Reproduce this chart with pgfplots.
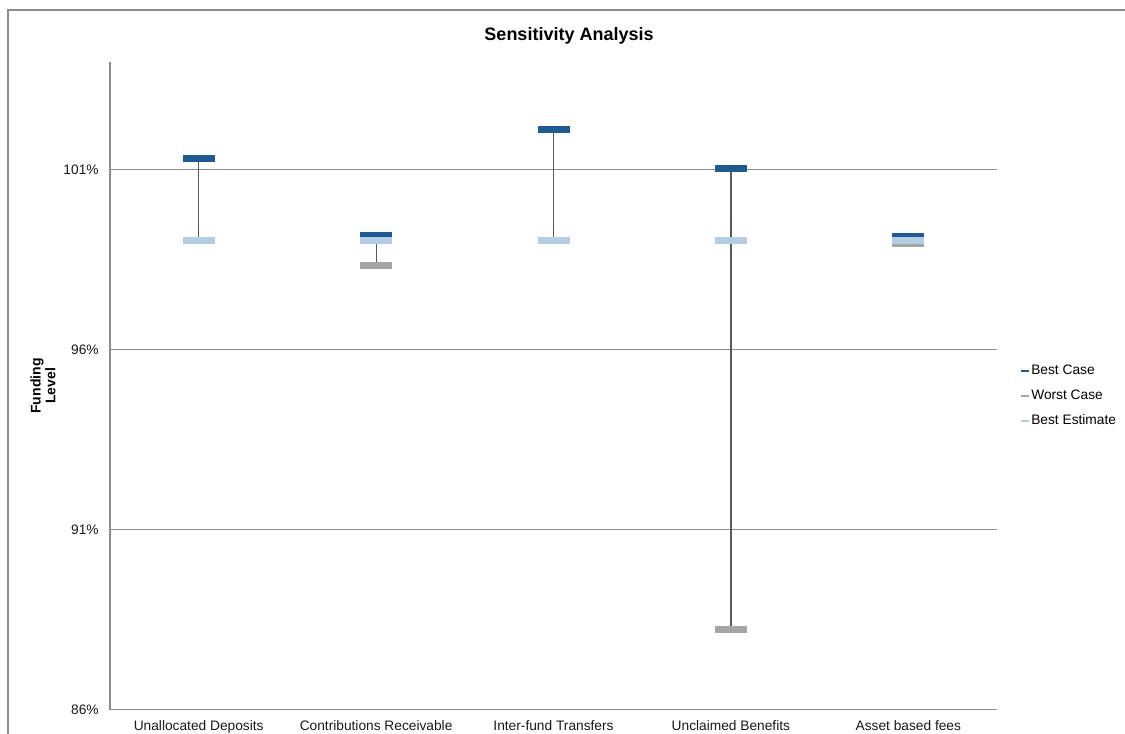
\documentclass[border=0pt]{standalone}
\usepackage{fontspec}
\setmainfont{Liberation Sans}
\usepackage{pgfplots}
\pgfplotsset{compat=1.18}
\definecolor{bestcase}{HTML}{1F5A93}
\definecolor{worstcase}{HTML}{A5A5A5}
\definecolor{bestest}{HTML}{B5CCE5}
\definecolor{gridgray}{HTML}{8C8C8C}
\definecolor{hilo}{HTML}{5A5A5A}
\begin{document}
\begin{tikzpicture}
\useasboundingbox (0,0) rectangle (843.75pt,550.5pt);
% outer chart frame (cut by the page on the right and bottom)
\draw[color=gridgray, line width=1.5pt] (6pt,-10pt) -- (6pt,543pt) -- (860pt,543pt);
\begin{axis}[
  at={(82.5pt,18pt)}, anchor=south west,
  scale only axis, width=665.25pt, height=486pt,
  xmin=-0.5, xmax=4.5, ymin=86, ymax=104,
  xtick={0,1,2,3,4},
  xticklabels={Unallocated Deposits, Contributions Receivable, Inter-fund Transfers, Unclaimed Benefits, Asset based fees},
  ytick={86,91,96,101},
  yticklabel={\pgfmathprintnumber{\tick}\%},
  /pgf/number format/assume math mode=true,
  ticklabel style={font=\fontsize{10.3}{12}\selectfont, text=black!90},
  yticklabel style={xshift=-5pt},
  xticklabel style={yshift=-4.75pt},
  tick style={draw=none},
  major tick length=0pt,
  axis x line*=bottom, axis y line*=left,
  axis line style={gridgray, line width=0.75pt, -},
  ymajorgrids, grid style={gridgray, line width=0.75pt},
  title={Sensitivity Analysis},
  title style={font=\fontsize{13.5}{16}\selectfont\bfseries, at={(axis description cs:0.5175,1.0448)}, anchor=center, yshift=-8.25pt},
  ylabel={Funding\\Level},
  ylabel style={font=\fontsize{10.5}{11}\selectfont\bfseries, align=center, at={(axis description cs:-0.0755,0.5)}, anchor=center, rotate=0},
  legend style={at={(axis description cs:1.0214,0.4846)}, anchor=west, draw=none, fill=none,
    font=\fontsize{10.3}{12}\selectfont, row sep=6.75pt,
    nodes={inner sep=1pt, text height=8pt, text depth=2pt}},
  legend cell align=left,
]
% high-low lines
\addplot[hilo, line width=0.9pt, forget plot, unbounded coords=jump] coordinates {
  (0,101.33)(0,99.04)(0,nan)
  (1,99.18)(1,98.35)(1,nan)
  (2,102.12)(2,99.04)(2,nan)
  (3,101.04)(3,88.24)(3,nan)
  (4,99.14)(4,98.96)
};
\addplot[only marks, mark=-, color=bestcase, line width=5.25pt, mark size=12pt,
  legend image code/.code={\draw[bestcase, line width=1.8pt] (2pt,0pt) -- (7.5pt,0pt);}]
  coordinates {(0,101.33)(1,99.18)(2,102.12)(3,101.04)(4,99.14)};
\addlegendentry{Best Case}
\addplot[only marks, mark=-, color=worstcase, line width=5.25pt, mark size=12pt,
  legend image code/.code={\draw[worstcase, line width=1.8pt] (2pt,0pt) -- (7.5pt,0pt);}]
  coordinates {(0,99.04)(1,98.35)(2,99.04)(3,88.24)(4,98.96)};
\addlegendentry{Worst Case}
\addplot[only marks, mark=-, color=bestest, line width=5.25pt, mark size=12pt,
  legend image code/.code={\draw[bestest, line width=1.8pt] (2pt,0pt) -- (7.5pt,0pt);}]
  coordinates {(0,99.04)(1,99.04)(2,99.04)(3,99.04)(4,99.04)};
\addlegendentry{Best Estimate}
\end{axis}
\end{tikzpicture}
\end{document}
